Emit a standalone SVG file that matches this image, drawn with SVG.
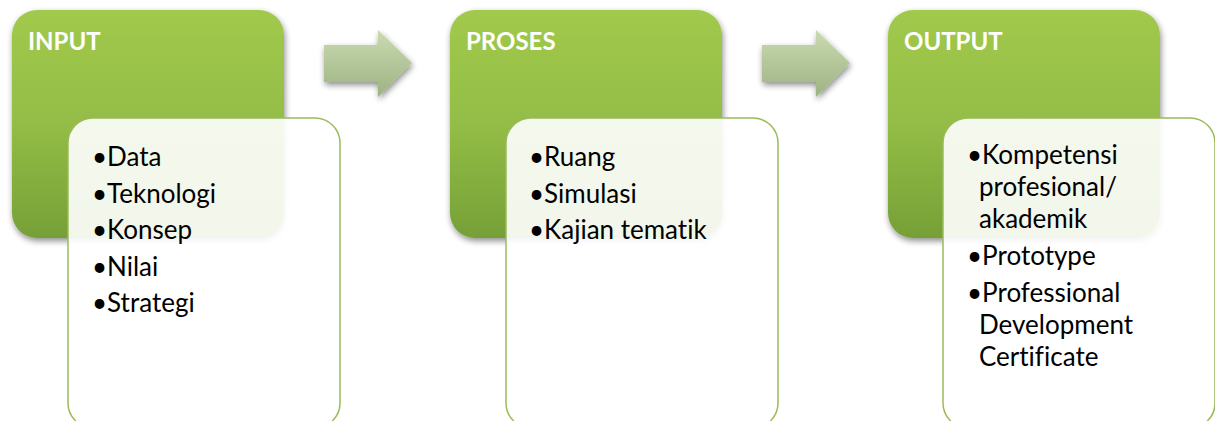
<svg xmlns="http://www.w3.org/2000/svg" width="1215" height="421" viewBox="0 0 1215 421">
<defs>
<linearGradient id="g" x1="0" y1="0" x2="0" y2="1">
<stop offset="0" stop-color="#a1c94c"/>
<stop offset="0.5" stop-color="#93bd46"/>
<stop offset="1" stop-color="#76a036"/>
</linearGradient>
<linearGradient id="ag" x1="0" y1="0" x2="0" y2="1">
<stop offset="0" stop-color="#cadbb0"/>
<stop offset="1" stop-color="#9db283"/>
</linearGradient>
<filter id="sh" x="-10%" y="-10%" width="130%" height="130%">
<feGaussianBlur in="SourceAlpha" stdDeviation="3"/>
<feOffset dx="1" dy="3"/>
<feComponentTransfer><feFuncA type="linear" slope="0.45"/></feComponentTransfer>
<feMerge><feMergeNode/><feMergeNode in="SourceGraphic"/></feMerge>
</filter>
</defs>
<style>
.head{fill:url(#g);filter:url(#sh)}
.card{fill:#ffffff;fill-opacity:0.9;stroke:#9bbb59;stroke-width:1.5}
.title{font-family:Lato,"Liberation Sans",sans-serif;font-weight:bold;font-size:24px;fill:#ffffff}
.item{font-family:Lato,"Liberation Sans",sans-serif;font-size:26px;fill:#000000;font-variant-ligatures:none}
.arrow{fill:url(#ag);filter:url(#sh)}
</style>
<g id="connectors">
<path class="arrow" d="M324,45 H378 V30 L412,63 L378,97 V82 H324 Z"/>
<path class="arrow" d="M762,45 H816 V30 L850,63 L816,97 V82 H762 Z"/>
</g>
<g id="input">
<rect class="head" x="12" y="10" width="272" height="228" rx="25"/>
<text class="title" x="28" y="50">INPUT</text>
<rect class="card" x="68" y="118" width="272" height="310" rx="25"/>
<text class="item" x="92" y="166">•Data</text>
<text class="item" x="92" y="203">•Teknologi</text>
<text class="item" x="92" y="239">•Konsep</text>
<text class="item" x="92" y="276">•Nilai</text>
<text class="item" x="92" y="312">•Strategi</text>
</g>
<g id="proses">
<rect class="head" x="450" y="10" width="272" height="228" rx="25"/>
<text class="title" x="466" y="50">PROSES</text>
<rect class="card" x="506" y="118" width="272" height="310" rx="25"/>
<text class="item" x="529" y="166">•Ruang</text>
<text class="item" x="529" y="203">•Simulasi</text>
<text class="item" x="529" y="239">•Kajian tematik</text>
</g>
<g id="output">
<rect class="head" x="888" y="10" width="272" height="228" rx="25"/>
<text class="title" x="904" y="50">OUTPUT</text>
<rect class="card" x="943" y="118" width="272" height="310" rx="25"/>
<text class="item" x="967" y="164">•Kompetensi</text>
<text class="item" x="979" y="196">profesional/</text>
<text class="item" x="979" y="228">akademik</text>
<text class="item" x="967" y="265">•Prototype</text>
<text class="item" x="967" y="302">•Professional</text>
<text class="item" x="979" y="334">Development</text>
<text class="item" x="979" y="366">Certificate</text>
</g>
</svg>
